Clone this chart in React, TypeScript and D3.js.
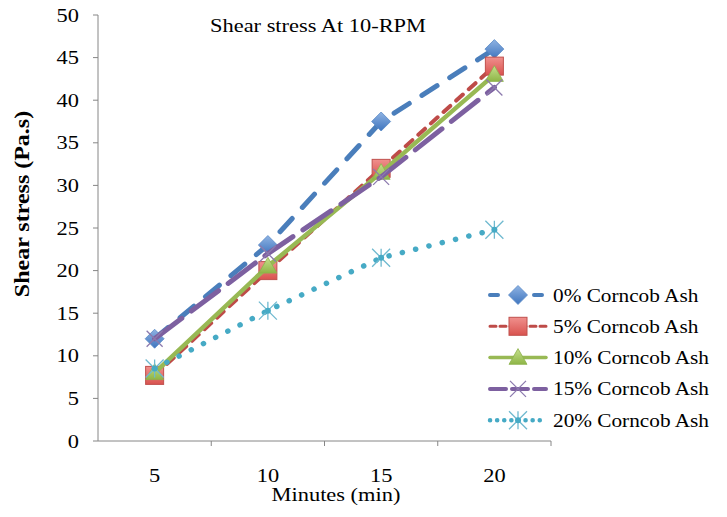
import React from "react";
import * as d3 from "d3";

const minutes = [5, 10, 15, 20];
const seriesNames = ["0% Corncob Ash", "5% Corncob Ash", "10% Corncob Ash", "15% Corncob Ash", "20% Corncob Ash"];
const ash0 = [12, 23, 37.5, 46];
const ash5 = [7.7, 20, 32, 44];
const ash10 = [8, 20.5, 31.5, 43];
const ash15 = [12, 22, 31, 41.5];
const ash20 = [8.5, 15.3, 21.5, 24.8];
const yTicks = [0, 5, 10, 15, 20, 25, 30, 35, 40, 45, 50];

const W = 727, H = 517;
const M = { left: 98, right: 551, top: 15, bottom: 441 };

type Style = { color: string; width: number; dash: string | null; marker: string };
const styles: Style[] = [
  { color: "#4A7EBB", width: 5, dash: "18 15", marker: "diamond" },
  { color: "#BE4B48", width: 4, dash: "9 8", marker: "square" },
  { color: "#98B954", width: 4.5, dash: null, marker: "triangle" },
  { color: "#7D60A0", width: 5, dash: "34 12", marker: "x" },
  { color: "#46AAC5", width: 5.5, dash: "0.1 13.6", marker: "star" },
];
const data = [ash0, ash5, ash10, ash15, ash20];

function Marker({ type, x, y, color }: { type: string; x: number; y: number; color: string }) {
  if (type === "diamond") {
    const s = 9.5;
    return <path d={`M${x},${y - s}L${x + s},${y}L${x},${y + s}L${x - s},${y}Z`} fill="url(#gBlue)" stroke="#5A8AC6" strokeWidth={0.8} />;
  }
  if (type === "square") {
    const s = 9;
    return <rect x={x - s} y={y - s} width={2 * s} height={2 * s} fill="url(#gRed)" stroke="#C0504D" strokeWidth={1} />;
  }
  if (type === "triangle") {
    const s = 9;
    return <path d={`M${x},${y - s}L${x + s},${y + s * 0.75}L${x - s},${y + s * 0.75}Z`} fill="url(#gGreen)" stroke="#8DB24C" strokeWidth={0.8} />;
  }
  if (type === "x") {
    const s = 8;
    return <path d={`M${x - s},${y - s}L${x + s},${y + s}M${x - s},${y + s}L${x + s},${y - s}`} stroke="#8C7AAE" strokeWidth={1.3} fill="none" />;
  }
  const s = 9;
  return (
    <g>
      <path d={`M${x - s},${y - s}L${x + s},${y + s}M${x - s},${y + s}L${x + s},${y - s}M${x},${y - s}L${x},${y + s}`} stroke="#6FB9CF" strokeWidth={1.3} fill="none" />
      <circle cx={x} cy={y} r={3} fill={color} />
    </g>
  );
}

function T({ x, y, children, anchor = "start", sx = 1.18, size = 19, rotate = 0, weight = "normal" }:
  { x: number; y: number; children: React.ReactNode; anchor?: string; sx?: number; size?: number; rotate?: number; weight?: string }) {
  return (
    <text transform={`translate(${x},${y}) rotate(${rotate}) scale(${sx},1)`} textAnchor={anchor as any}
      fontSize={size} fontWeight={weight} fill="#000">{children}</text>
  );
}

export default function App() {
  const x = d3.scaleBand<number>().domain(minutes).range([M.left, M.right]);
  const y = d3.scaleLinear().domain([0, 50]).range([M.bottom, M.top]);
  const cx = (m: number) => (x(m) as number) + x.bandwidth() / 2;
  const line = d3.line<number>().x((_, i) => cx(minutes[i])).y((v) => y(v));
  const font = "'Liberation Serif', 'Times New Roman', serif";
  const legendY0 = 295;
  const legendStep = 31.3;

  return (
    <svg width={W} height={H} style={{ position: "absolute", left: 0, top: 0, background: "#fff" }} fontFamily={font}>
      <defs>
        <linearGradient id="gBlue" x1="0" y1="0" x2="0" y2="1">
          <stop offset="0" stopColor="#8FB3E3" />
          <stop offset="1" stopColor="#3F75BE" />
        </linearGradient>
        <linearGradient id="gRed" x1="0" y1="0" x2="0" y2="1">
          <stop offset="0" stopColor="#F0908D" />
          <stop offset="1" stopColor="#D9534F" />
        </linearGradient>
        <linearGradient id="gGreen" x1="0" y1="0" x2="0" y2="1">
          <stop offset="0" stopColor="#C6E08D" />
          <stop offset="1" stopColor="#8EB546" />
        </linearGradient>
      </defs>
      <rect x={0} y={0} width={W} height={H} fill="#fff" />
      {/* axes */}
      <line x1={M.left} x2={M.left} y1={M.top} y2={M.bottom} stroke="#868686" strokeWidth={1} />
      <line x1={M.left} x2={M.right} y1={M.bottom} y2={M.bottom} stroke="#868686" strokeWidth={1} />
      {yTicks.map((t) => (
        <g key={t}>
          <line x1={M.left - 5} x2={M.left} y1={y(t)} y2={y(t)} stroke="#868686" />
          <T x={79} y={y(t) + 6.5} anchor="end">{t}</T>
        </g>
      ))}
      {minutes.map((m, i) => (
        <g key={m}>
          {i > 0 && <line x1={x(m)} x2={x(m)} y1={M.bottom} y2={M.bottom + 5} stroke="#868686" />}
          <T x={cx(m)} y={482} anchor="middle">{m}</T>
        </g>
      ))}
      <line x1={M.right} x2={M.right} y1={M.bottom} y2={M.bottom + 5} stroke="#868686" />
      <T x={336} y={501} anchor="middle">Minutes (min)</T>
      <T x={29} y={204} anchor="middle" rotate={-90} sx={1.2} size={20} weight="bold">Shear stress (Pa.s)</T>
      <T x={318} y={32} anchor="middle">Shear stress At 10-RPM</T>
      {/* series */}
      {data.map((vals, si) => {
        const st = styles[si];
        return (
          <g key={si}>
            <path d={line(vals) || ""} fill="none" stroke={st.color} strokeWidth={st.width}
              strokeDasharray={st.dash || undefined} strokeLinecap="round" strokeLinejoin="round" />
            {vals.map((v, i) => <Marker key={i} type={st.marker} x={cx(minutes[i])} y={y(v)} color={st.color} />)}
          </g>
        );
      })}
      {/* legend */}
      {seriesNames.map((name, si) => {
        const st = styles[si];
        const ly = legendY0 + si * legendStep;
        return (
          <g key={name}>
            <line x1={490} x2={546} y1={ly} y2={ly} stroke={st.color} strokeWidth={st.width - 1}
              strokeDasharray={st.dash ? (si === 4 ? "0.1 7" : si === 3 ? "16 6" : si === 0 ? "8 14" : "6 4") : undefined}
              strokeLinecap="round" />
            <Marker type={st.marker} x={518} y={ly} color={st.color} />
            <T x={553} y={ly + 6.5} sx={1.12}>{name}</T>
          </g>
        );
      })}
    </svg>
  );
}
